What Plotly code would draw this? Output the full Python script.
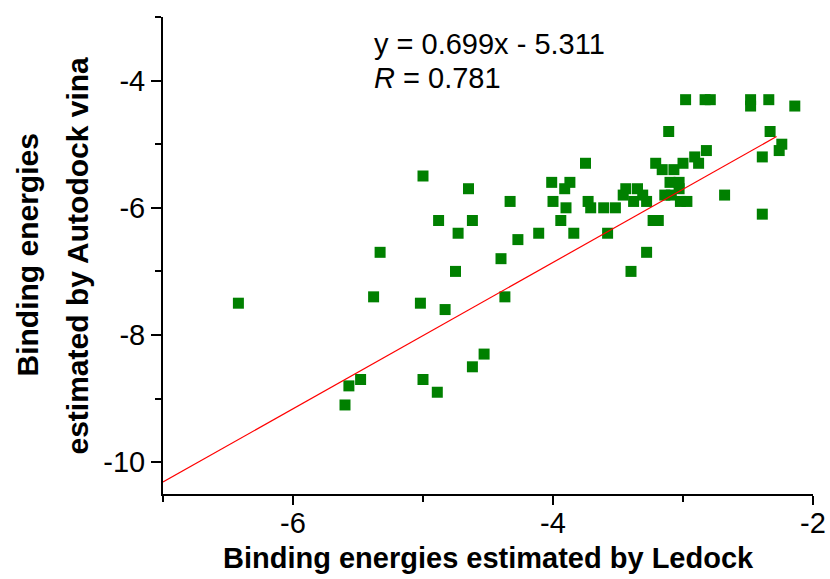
import plotly.graph_objects as go

# binding energies (kcal/mol)
ledock = [-5.00, -4.65, -4.88, -4.62, -4.73, -5.33, -4.75, -6.42, -5.38, -5.02,
          -4.83, -4.53, -4.62, -5.00, -4.89, -5.48, -5.57, -5.60, -4.40, -4.37,
          -3.28, -3.40, -2.98, -2.83, -2.79, -2.48, -2.48, -2.34, -2.14, -3.11,
          -2.33, -2.24, -2.26, -2.39, -2.82, -2.91, -2.88, -3.00, -3.21, -3.75,
          -3.16, -3.07, -3.10, -3.03, -3.03, -4.01, -3.87, -3.91, -3.44, -3.35,
          -3.46, -3.31, -3.14, -3.09, -2.68, -4.00, -3.73, -3.38, -3.28, -3.02,
          -2.97, -4.33, -3.90, -3.71, -3.61, -3.52, -3.94, -3.23, -3.19, -2.39,
          -4.11, -3.84, -3.58, -4.27]
vina = [-5.5, -5.7, -6.2, -6.2, -6.4, -6.7, -7.0, -7.5, -7.4, -7.5,
        -7.6, -8.3, -8.5, -8.7, -8.9, -8.7, -8.8, -9.1, -6.8, -7.4,
        -6.7, -7.0, -4.3, -4.3, -4.3, -4.3, -4.4, -4.3, -4.4, -4.8,
        -4.8, -5.0, -5.1, -5.2, -5.1, -5.2, -5.3, -5.3, -5.3, -5.3,
        -5.4, -5.4, -5.6, -5.6, -5.7, -5.6, -5.6, -5.7, -5.7, -5.7,
        -5.8, -5.8, -5.8, -5.8, -5.8, -5.9, -5.9, -5.9, -5.9, -5.9,
        -5.9, -5.9, -6.0, -6.0, -6.0, -6.0, -6.2, -6.2, -6.2, -6.1,
        -6.4, -6.4, -6.4, -6.5]

# fitted line end points as drawn
fit_x = [-7.0, -2.28]
fit_y = [-10.31, -4.88]

# tick labels (plain hyphen like the original)
x_ticks = [-6, -4, -2]
x_ticktext = ["-6", "-4", "-2"]
y_ticks = [-10, -8, -6, -4]
y_ticktext = ["-10", "-8", "-6", "-4"]

eq_text = "y = 0.699x - 5.311"
r_text = "<i>R</i> = 0.781"

font = "Arial, Liberation Sans, sans-serif"

fig = go.Figure()
fig.add_trace(go.Scatter(x=ledock, y=vina, mode="markers",
                         marker=dict(symbol="square", size=11, color="#008000", line=dict(width=0))))
fig.add_trace(go.Scatter(x=fit_x, y=fit_y, mode="lines", line=dict(color="red", width=1.2)))

fig.update_layout(
    width=830, height=579,
    margin=dict(l=163, r=17, t=17, b=85),
    plot_bgcolor="white", paper_bgcolor="white",
    showlegend=False,
    font=dict(family=font, size=29, color="black"),
)
fig.update_xaxes(range=[-7, -2], tickvals=x_ticks, ticktext=x_ticktext, automargin=False,
                 showgrid=False, zeroline=False,
                 showline=True, linecolor="black", linewidth=1.5,
                 ticks="outside", ticklen=9, tickwidth=1.5, tickcolor="black",
                 ticklabelstandoff=-7, ticklabeloverflow="allow",
                 minor=dict(dtick=1, tick0=-7, ticks="outside", ticklen=6, tickwidth=1.5, tickcolor="black"),
                 tickfont=dict(size=29))
fig.update_yaxes(range=[-10.5, -3], tickvals=y_ticks, ticktext=y_ticktext, automargin=False,
                 showgrid=False, zeroline=False,
                 showline=True, linecolor="black", linewidth=2,
                 ticks="outside", ticklen=10, tickwidth=1.5, tickcolor="black",
                 minor=dict(dtick=1, tick0=-3, ticks="outside", ticklen=6, tickwidth=1.5, tickcolor="black"),
                 tickfont=dict(size=29))

# equation + R
fig.add_annotation(text=eq_text, xref="paper", yref="paper", x=0.3226, y=0.978,
                   xanchor="left", yanchor="top", showarrow=False, borderpad=0)
fig.add_annotation(text=r_text, xref="paper", yref="paper", x=0.3226, y=0.908,
                   xanchor="left", yanchor="top", showarrow=False, borderpad=0)

# axis titles
fig.add_annotation(text="<b>Binding energies estimated by Ledock</b>", xref="paper", yref="paper",
                   x=0.5, y=-0.098, xanchor="center", yanchor="top", showarrow=False, borderpad=0)
fig.add_annotation(text="<b>Binding energies</b>", xref="paper", yref="paper",
                   x=-0.2092, y=0.5, xanchor="center", yanchor="middle", textangle=-90,
                   showarrow=False, borderpad=0, font=dict(size=30))
fig.add_annotation(text="<b>estimated by Autodock vina</b>", xref="paper", yref="paper",
                   x=-0.1323, y=0.5, xanchor="center", yanchor="middle", textangle=-90,
                   showarrow=False, borderpad=0, font=dict(size=30))

# drop the default 8px body margin so the figure fills the window, no modebar
fig.write_html("out.html", config={"displayModeBar": False},
               post_script="document.body.style.margin='0';document.body.style.overflow='hidden';")
